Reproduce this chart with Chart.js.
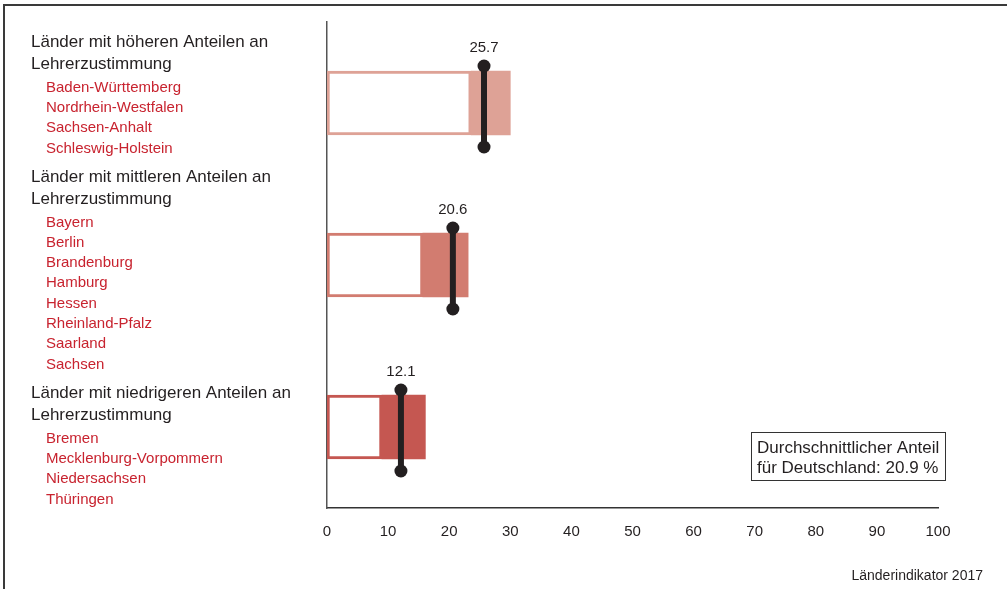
<!DOCTYPE html>
<html lang="de">
<head>
<meta charset="utf-8">
<title>Lehrerzustimmung nach Ländern</title>
<script src="https://cdn.jsdelivr.net/npm/chart.js@4.4.1/dist/chart.umd.min.js"></script>
<style>
  html, body { margin: 0; padding: 0; background: #fff; }
  #wrap { position: relative; width: 1007px; height: 589px; }
  #frame { position: absolute; left: 3px; top: 4px; right: 0; bottom: 0;
           border-top: 2px solid #3a3a3a; border-left: 2px solid #3a3a3a; }
  canvas { position: absolute; left: 0; top: 0; }
</style>
</head>
<body>
<div id="wrap">
  <div id="frame"></div>
  <canvas id="chart" width="1007" height="589"></canvas>
</div>
<script>
// Gruppen (Kategorien der y-Achse)
const groupHeadings = [
    ['Länder mit höheren Anteilen an', 'Lehrerzustimmung'],
    ['Länder mit mittleren Anteilen an', 'Lehrerzustimmung'],
    ['Länder mit niedrigeren Anteilen an', 'Lehrerzustimmung']
];
const groupStates = [
    ['Baden-Württemberg', 'Nordrhein-Westfalen', 'Sachsen-Anhalt', 'Schleswig-Holstein'],
    ['Bayern', 'Berlin', 'Brandenburg', 'Hamburg', 'Hessen', 'Rheinland-Pfalz', 'Saarland', 'Sachsen'],
    ['Bremen', 'Mecklenburg-Vorpommern', 'Niedersachsen', 'Thüringen']
];
// Spannweite der Länderwerte je Gruppe (Minimum / Maximum)
const rangeMin = [23.6, 15.7, 9.0];
const rangeMax = [30.0, 23.1, 16.1];
// Gruppenmittelwert
const groupValues = [25.7, 20.6, 12.1];
const germanyAverage = 20.9;
const xMin = 0;
const xMax = 100;
const xStep = 10;

const barColors = ['#dea296', '#d27c70', '#c55751'];
const stateColor = '#c8232f';
const inkColor = '#231f20';
const fontFamily = '"Liberation Sans", Arial, Helvetica, sans-serif';

const labels = groupHeadings.map(h => h.join(' '));

// Links: Gruppenüberschriften und Ländernamen
const groupListPlugin = {
    id: 'groupList',
    afterDraw(chart) {
        const ctx = chart.ctx;
        ctx.save();
        ctx.textBaseline = 'middle';
        ctx.textAlign = 'left';
        let y = 42;
        groupHeadings.forEach((heading, i) => {
            ctx.font = '17px ' + fontFamily;
            ctx.fillStyle = inkColor;
            heading.forEach(line => {
                ctx.fillText(line, 31, y);
                y += 22;
            });
            ctx.font = '15px ' + fontFamily;
            ctx.fillStyle = stateColor;
            groupStates[i].forEach((s, k) => {
                ctx.fillText(s, 46, y + 1.5);
                if (k < groupStates[i].length - 1) y += 20.3;
            });
            y += 30;
        });
        ctx.restore();
    }
};

// Mittelwert als senkrechter Balken mit Punkten und Beschriftung
const meanMarkerPlugin = {
    id: 'meanMarker',
    afterDatasetsDraw(chart) {
        const ctx = chart.ctx;
        const xScale = chart.scales.x;
        const meta = chart.getDatasetMeta(1);
        ctx.save();
        meta.data.forEach((bar, i) => {
            const x = xScale.getPixelForValue(groupValues[i]);
            const top = bar.y - bar.height / 2 - 5;
            const bottom = bar.y + bar.height / 2 + 12;
            ctx.strokeStyle = inkColor;
            ctx.lineWidth = 6;
            ctx.beginPath();
            ctx.moveTo(x, top);
            ctx.lineTo(x, bottom);
            ctx.stroke();
            ctx.fillStyle = inkColor;
            [top, bottom].forEach(cy => {
                ctx.beginPath();
                ctx.arc(x, cy, 6.5, 0, Math.PI * 2);
                ctx.fill();
            });
            ctx.font = '15px ' + fontFamily;
            ctx.textAlign = 'center';
            ctx.textBaseline = 'middle';
            ctx.fillText(groupValues[i].toFixed(1), x, top - 18);
        });
        ctx.restore();
    }
};

// Kasten mit dem Bundesdurchschnitt und Quellenangabe
const notesPlugin = {
    id: 'notes',
    afterDraw(chart) {
        const ctx = chart.ctx;
        ctx.save();
        ctx.strokeStyle = '#333';
        ctx.lineWidth = 1;
        ctx.strokeRect(751.5, 432.5, 194, 48);
        ctx.fillStyle = inkColor;
        ctx.font = '17px ' + fontFamily;
        ctx.textAlign = 'left';
        ctx.textBaseline = 'middle';
        ctx.fillText('Durchschnittlicher Anteil', 757, 448);
        ctx.fillText('für Deutschland: ' + germanyAverage.toFixed(1) + ' %', 757, 468);
        ctx.font = '14px ' + fontFamily;
        ctx.textAlign = 'right';
        ctx.fillText('Länderindikator 2017', 983, 576);
        ctx.restore();
    }
};

const ctx = document.getElementById('chart').getContext('2d');
new Chart(ctx, {
    type: 'bar',
    data: {
        labels: labels,
        datasets: [
            {
                // Bereich von 0 bis zum kleinsten Länderwert
                data: rangeMin.map(v => [xMin, v]),
                backgroundColor: '#ffffff',
                borderColor: barColors,
                borderWidth: 3,
                borderSkipped: false,
                barThickness: 64,
                grouped: false,
                order: 1
            },
            {
                // Spannweite der Länderwerte
                data: rangeMin.map((v, i) => [v, rangeMax[i]]),
                backgroundColor: barColors,
                borderWidth: 0,
                barThickness: 64,
                grouped: false,
                order: 0
            }
        ]
    },
    options: {
        indexAxis: 'y',
        responsive: false,
        animation: false,
        layout: { padding: { left: 327, top: 22, right: 69, bottom: 41 } },
        plugins: {
            legend: { display: false },
            tooltip: { enabled: false }
        },
        scales: {
            x: {
                min: xMin,
                max: xMax,
                grid: { display: false },
                border: { display: true, color: '#333', width: 1.5 },
                ticks: {
                    stepSize: xStep,
                    color: inkColor,
                    font: { family: fontFamily, size: 15 },
                    padding: 7,
                    maxRotation: 0
                },
                afterFit: s => { s.height = 40; }
            },
            y: {
                grid: { display: false },
                border: { display: true, color: '#555', width: 1.5 },
                ticks: { display: false },
                afterFit: s => { s.width = 0; }
            }
        }
    },
    plugins: [groupListPlugin, meanMarkerPlugin, notesPlugin]
});
</script>
</body>
</html>
